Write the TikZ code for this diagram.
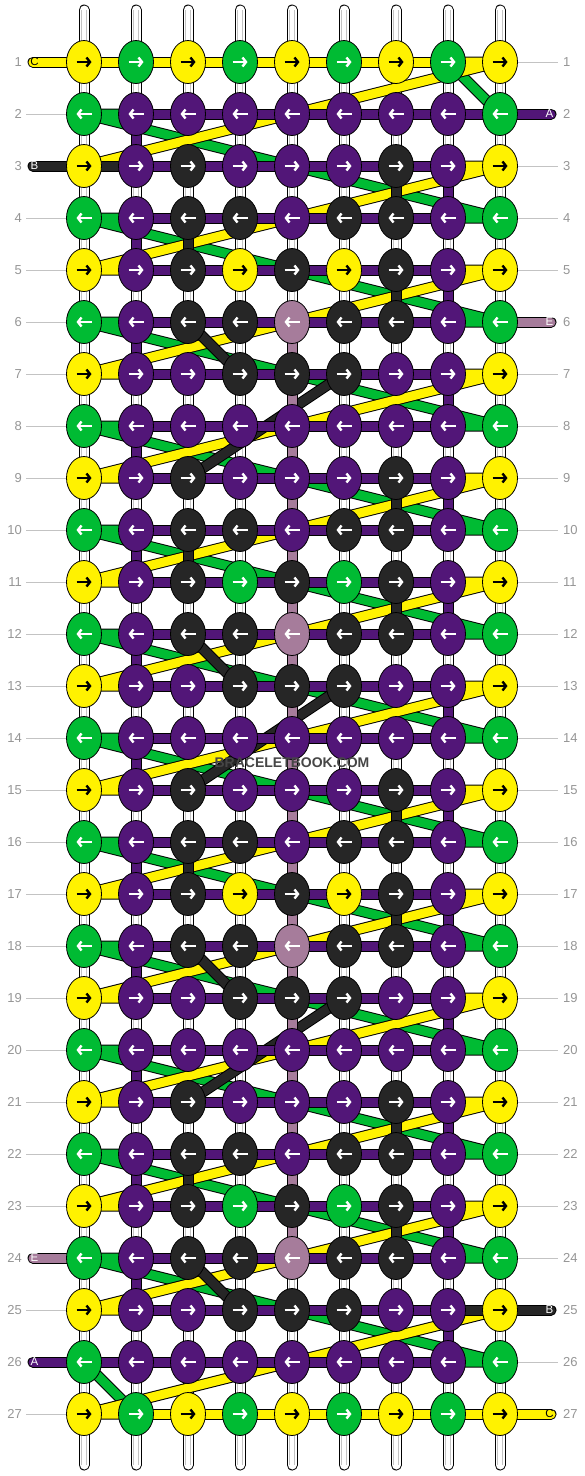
\documentclass[tikz,border=0pt]{standalone}
\usepackage{fontspec}
\setmainfont{Liberation Sans}
\usetikzlibrary{shapes.geometric,arrows.meta}
\definecolor{kY}{RGB}{255,242,0}
\definecolor{kG}{RGB}{0,187,51}
\definecolor{kP}{RGB}{82,22,120}
\definecolor{kK}{RGB}{38,38,38}
\definecolor{kM}{RGB}{166,124,155}
\definecolor{lblgray}{RGB}{150,150,150}
\definecolor{rulegray}{RGB}{195,195,195}
\definecolor{tubegray}{RGB}{195,195,195}
\definecolor{wmgray}{RGB}{70,70,70}
\colorlet{aY}{black}
\colorlet{aG}{white}
\colorlet{aP}{white}
\colorlet{aK}{white}
\colorlet{aM}{white}
\pgfdeclarelayer{bg}
\pgfdeclarelayer{tubes}
\pgfdeclarelayer{greens}
\pgfdeclarelayer{yellows}
\pgfdeclarelayer{blacks}
\pgfdeclarelayer{verts}
\pgfdeclarelayer{horiz}
\pgfdeclarelayer{top}
\pgfsetlayers{bg,tubes,greens,yellows,blacks,verts,horiz,main,top}
\begin{document}
\begin{tikzpicture}[x=1pt,y=-1pt,
  knot/.style={ellipse,draw=black,line width=0.8pt,minimum width=35pt,minimum height=43pt,inner sep=0pt,fill=#1},
  seg/.style={draw=black,line width=1pt,double=#1,double distance=9pt},
  band/.style={draw=black,line width=1pt,double=#1,double distance=9pt,line join=round},
  endstr/.style={draw=black,line width=1pt,double=#1,double distance=9pt,line cap=round},
  arr/.style={line width=2.4pt,-{Straight Barb[length=3.5pt,width=9pt]}},
  rowlab/.style={text=lblgray,font=\fontsize{13}{13}\selectfont,inner sep=0pt},
  rowrule/.style={draw=rulegray,line width=0.8pt},
  endlab/.style={font=\fontsize{11.5}{11.5}\selectfont,inner sep=0pt},
]
\begin{pgfonlayer}{bg}
\fill[white] (0,0) rectangle (584,1476);
\end{pgfonlayer}
\useasboundingbox (0,0) rectangle (584,1476);
% ---------------- knots ----------------
\foreach \r/\cs in {
 1/{Y,G,Y,G,Y,G,Y,G,Y}, 2/{G,P,P,P,P,P,P,P,G}, 3/{Y,P,K,P,P,P,K,P,Y},
 4/{G,P,K,K,P,K,K,P,G}, 5/{Y,P,K,Y,K,Y,K,P,Y}, 6/{G,P,K,K,M,K,K,P,G},
 7/{Y,P,P,K,K,K,P,P,Y}, 8/{G,P,P,P,P,P,P,P,G}, 9/{Y,P,K,P,P,P,K,P,Y},
 10/{G,P,K,K,P,K,K,P,G}, 11/{Y,P,K,G,K,G,K,P,Y}, 12/{G,P,K,K,M,K,K,P,G},
 13/{Y,P,P,K,K,K,P,P,Y}, 14/{G,P,P,P,P,P,P,P,G}, 15/{Y,P,K,P,P,P,K,P,Y},
 16/{G,P,K,K,P,K,K,P,G}, 17/{Y,P,K,Y,K,Y,K,P,Y}, 18/{G,P,K,K,M,K,K,P,G},
 19/{Y,P,P,K,K,K,P,P,Y}, 20/{G,P,P,P,P,P,P,P,G}, 21/{Y,P,K,P,P,P,K,P,Y},
 22/{G,P,K,K,P,K,K,P,G}, 23/{Y,P,K,G,K,G,K,P,Y}, 24/{G,P,K,K,M,K,K,P,G},
 25/{Y,P,P,K,K,K,P,P,Y}, 26/{G,P,P,P,P,P,P,P,G}, 27/{Y,G,Y,G,Y,G,Y,G,Y}}{
  \foreach \k [count=\c] in \cs {
    \node[knot=k\k] (k-\r-\c) at ({84+52*(\c-1)},{62+52*(\r-1)}) {};
    \ifodd\r
      \draw[arr,color=a\k] ([xshift=-7.5pt]k-\r-\c.center) -- ([xshift=7.5pt]k-\r-\c.center);
    \else
      \draw[arr,color=a\k] ([xshift=7.5pt]k-\r-\c.center) -- ([xshift=-7.5pt]k-\r-\c.center);
    \fi
  }
}
% ---------------- vertical white strings ----------------
\begin{pgfonlayer}{tubes}
\foreach \c in {1,...,9}{
  \coordinate (tt-\c) at ({84+52*(\c-1)},10);
  \coordinate (tb-\c) at ({84+52*(\c-1)},1465);
  \draw[black,line width=11pt,line cap=round] (tt-\c) -- (tb-\c);
  \draw[white,line width=9pt,line cap=round] (tt-\c) -- (tb-\c);
  \draw[tubegray,line width=0.8pt] ([xshift=-2.6pt]tt-\c) -- ([xshift=-2.6pt]tb-\c);
  \draw[tubegray,line width=0.8pt] ([xshift=2.6pt]tt-\c) -- ([xshift=2.6pt]tb-\c);
}
\end{pgfonlayer}
% ---------------- green diagonal strings ----------------
\begin{pgfonlayer}{greens}
\foreach \r in {2,4,...,24}{
  \pgfmathtruncatemacro{\rr}{\r+2}
  \draw[band=kG] (k-\r-2.center) -- (k-\r-1.center) -- (k-\rr-9.center) -- (k-\rr-8.center);
}
\draw[band=kG] (k-1-8.center) -- (k-2-9.center);
\draw[band=kG] (k-26-1.center) -- (k-27-2.center);
\end{pgfonlayer}
% ---------------- yellow diagonal strings ----------------
\begin{pgfonlayer}{yellows}
\draw[band=kY] (k-1-8.center) -- (k-1-9.center) -- (k-3-1.center);
\foreach \r in {3,5,...,23}{
  \pgfmathtruncatemacro{\rr}{\r+2}
  \draw[band=kY] (k-\r-8.center) -- (k-\r-9.center) -- (k-\rr-1.center) -- (k-\rr-2.center);
}
\draw[band=kY] (k-25-9.center) -- (k-27-1.center) -- (k-27-2.center);
\end{pgfonlayer}
% ---------------- black diagonal strings ----------------
\begin{pgfonlayer}{blacks}
\foreach \r in {6,12,18,24}{
  \pgfmathtruncatemacro{\rn}{\r+1}
  \draw[seg=kK] (k-\r-3.center) -- (k-\rn-4.center);
}
\foreach \r in {7,13,19}{
  \pgfmathtruncatemacro{\rr}{\r+2}
  \draw[seg=kK] (k-\r-6.center) -- (k-\rr-3.center);
}
\end{pgfonlayer}
% ---------------- coloured vertical pieces ----------------
\begin{pgfonlayer}{verts}
\foreach \r in {2,4,...,24}{\pgfmathtruncatemacro{\rn}{\r+1}\draw[seg=kP] (k-\r-2.center) -- (k-\rn-2.center);}
\foreach \r in {3,5,...,25}{\pgfmathtruncatemacro{\rn}{\r+1}\draw[seg=kP] (k-\r-8.center) -- (k-\rn-8.center);}
\foreach \r in {4,10,16,22}{\pgfmathtruncatemacro{\rn}{\r+1}\draw[seg=kK] (k-\r-3.center) -- (k-\rn-3.center);}
\foreach \r in {3,5,9,11,15,17,21,23}{\pgfmathtruncatemacro{\rn}{\r+1}\draw[seg=kK] (k-\r-7.center) -- (k-\rn-7.center);}
\foreach \r in {6,...,23}{\pgfmathtruncatemacro{\rn}{\r+1}\draw[seg=kM] (k-\r-5.center) -- (k-\rn-5.center);}
\end{pgfonlayer}
% ---------------- horizontal pieces, end strings, rules ----------------
\begin{pgfonlayer}{horiz}
\foreach \c in {1,...,7}{\pgfmathtruncatemacro{\cn}{\c+1}\draw[seg=kY] (k-1-\c.center) -- (k-1-\cn.center);}
\foreach \c in {2,...,8}{\pgfmathtruncatemacro{\cn}{\c+1}\draw[seg=kY] (k-27-\c.center) -- (k-27-\cn.center);}
\foreach \r in {2,...,26}{
  \foreach \c in {2,...,7}{\pgfmathtruncatemacro{\cn}{\c+1}\draw[seg=kP] (k-\r-\c.center) -- (k-\r-\cn.center);}
}
\draw[seg=kK] (k-3-1.center) -- (k-3-2.center);
\draw[seg=kP] (k-26-1.center) -- (k-26-2.center);
\draw[seg=kP] (k-2-8.center) -- (k-2-9.center);
\draw[seg=kK] (k-25-8.center) -- (k-25-9.center);
% end strings
\coordinate (e-1) at (33,62);
\coordinate (e-2) at (551,114);
\coordinate (e-3) at (33,166);
\coordinate (e-6) at (551,322);
\coordinate (e-24) at (33,1258);
\coordinate (e-25) at (551,1310);
\coordinate (e-26) at (33,1362);
\coordinate (e-27) at (551,1414);
\draw[endstr=kY] (e-1) -- (k-1-1.center);
\draw[endstr=kP] (e-2) -- (k-2-9.center);
\draw[endstr=kK] (e-3) -- (k-3-1.center);
\draw[endstr=kM] (e-6) -- (k-6-9.center);
\draw[endstr=kM] (e-24) -- (k-24-1.center);
\draw[endstr=kK] (e-25) -- (k-25-9.center);
\draw[endstr=kP] (e-26) -- (k-26-1.center);
\draw[endstr=kY] (e-27) -- (k-27-9.center);
% row rules
\foreach \r in {2,4,5,6,7,8,9,10,11,12,13,14,15,16,17,18,19,20,21,22,23,25,27}{
  \coordinate (rl-\r) at (26,{62+52*(\r-1)});
  \draw[rowrule] (rl-\r) -- (k-\r-1);
}
\foreach \r in {1,3,4,5,7,8,9,10,11,12,13,14,15,16,17,18,19,20,21,22,23,24,26}{
  \coordinate (rr-\r) at (558,{62+52*(\r-1)});
  \draw[rowrule] (k-\r-9) -- (rr-\r);
}
\end{pgfonlayer}
% ---------------- texts ----------------
\begin{pgfonlayer}{top}
\foreach \r in {1,...,27}{
  \node[rowlab,anchor=east] (nl-\r) at (22,{62+52*(\r-1)}) {\r};
  \node[rowlab,anchor=west] (nr-\r) at (563,{62+52*(\r-1)}) {\r};
}
\node[endlab,text=black] (t-1) at ([xshift=1.5pt]e-1) {C};
\node[endlab,text=white] (t-2) at ([xshift=-1.5pt]e-2) {A};
\node[endlab,text=white] (t-3) at ([xshift=1.5pt]e-3) {B};
\node[endlab,text=white] (t-6) at ([xshift=-1.5pt]e-6) {E};
\node[endlab,text=white] (t-24) at ([xshift=1.5pt]e-24) {E};
\node[endlab,text=white] (t-25) at ([xshift=-1.5pt]e-25) {B};
\node[endlab,text=white] (t-26) at ([xshift=1.5pt]e-26) {A};
\node[endlab,text=black] (t-27) at ([xshift=-1.5pt]e-27) {C};
\node[text=wmgray,font=\bfseries\fontsize{14}{14}\selectfont,inner sep=0pt] (wm) at (292,763) {BRACELETBOOK.COM};
\end{pgfonlayer}
\end{tikzpicture}
\end{document}
